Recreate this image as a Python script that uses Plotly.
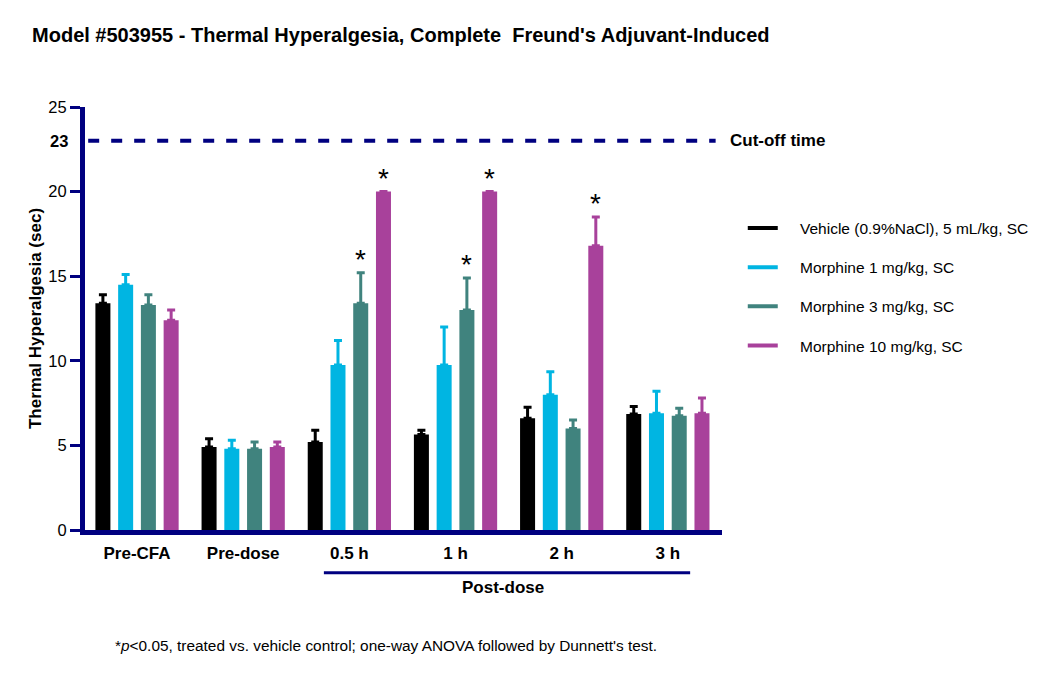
import plotly.graph_objects as go

# time points (x categories)
timepoints = ['Pre-CFA', 'Pre-dose', '0.5 h', '1 h', '2 h', '3 h']

# group names
groups = ['Vehicle (0.9%NaCl), 5 mL/kg, SC', 'Morphine 1 mg/kg, SC',
          'Morphine 3 mg/kg, SC', 'Morphine 10 mg/kg, SC']

# mean latency (sec)
vehicle = [13.4, 4.9, 5.2, 5.65, 6.6, 6.85]
morph_1 = [14.5, 4.8, 9.75, 9.75, 8.0, 6.9]
morph_3 = [13.3, 4.8, 13.4, 13.0, 6.0, 6.75]
morph_10 = [12.4, 4.9, 20.0, 20.0, 16.8, 6.9]

# SEM (upper bar only)
vehicle_sem = [0.5, 0.5, 0.7, 0.25, 0.65, 0.45]
morph_1_sem = [0.6, 0.5, 1.45, 2.25, 1.35, 1.3]
morph_3_sem = [0.6, 0.4, 1.8, 1.9, 0.5, 0.45]
morph_10_sem = [0.6, 0.3, 0.0, 0.0, 1.7, 0.9]

# significance vs vehicle (p<0.05)
morph_1_sig = [0, 0, 0, 0, 0, 0]
morph_3_sig = [0, 0, 1, 1, 0, 0]
morph_10_sig = [0, 0, 1, 1, 1, 0]

cutoff = 23
y_ticks = [0, 5, 10, 15, 20, 25]

colors = ['#000000', '#00b5e2', '#40837e', '#a8419b']
navy = '#000080'
font = 'Arial, Liberation Sans, sans-serif'

means = [vehicle, morph_1, morph_3, morph_10]
sems = [vehicle_sem, morph_1_sem, morph_3_sem, morph_10_sem]
sigs = [[0] * 6, morph_1_sig, morph_3_sig, morph_10_sig]

fig = go.Figure()

for i in range(4):
    fig.add_trace(go.Bar(
        x=timepoints, y=means[i], name=groups[i],
        marker=dict(color=colors[i], line=dict(width=0)),
        error_y=dict(type='data', symmetric=False, array=sems[i],
                     arrayminus=[0] * 6, color=colors[i], thickness=3, width=4),
        showlegend=False, offsetgroup=str(i)))

# legend entries drawn as short lines (nbsp pads the gap to the text)
for i in range(4):
    fig.add_trace(go.Scatter(
        x=[None], y=[None], mode='lines', name='\u00a0' * 4 + groups[i],
        line=dict(color=colors[i], width=4), legendgroup=str(i)))

# asterisks above significant bars
n_groups = 4
slot = (1 - 0.143) / n_groups
for i in range(4):
    for j, flag in enumerate(sigs[i]):
        if flag:
            xpos = j - (1 - 0.143) / 2 + slot * (i + 0.5)
            fig.add_annotation(x=xpos, y=means[i][j] + sems[i][j], xref='x', yref='y',
                               text='*', showarrow=False, yanchor='bottom', yshift=-4,
                               font=dict(family=font, size=28, color='black'))

# cut-off line
fig.add_shape(type='line', xref='paper', yref='y', x0=0.005, x1=0.99, y0=cutoff, y1=cutoff,
              line=dict(color=navy, width=4, dash='11px,12px'))
fig.add_annotation(xref='paper', yref='y', x=1.009, y=cutoff, xanchor='left', yanchor='middle',
                   text='<b>Cut-off time</b>', showarrow=False,
                   font=dict(family=font, size=17, color='black'))
fig.add_annotation(xref='paper', yref='y', x=-0.0235, y=cutoff, xanchor='right', yanchor='middle',
                   text='<b>%d</b>' % cutoff, showarrow=False,
                   font=dict(family=font, size=16.5, color='black'))

# post-dose bracket
fig.add_shape(type='line', xref='x', yref='paper', x0=1.76, x1=5.21, y0=-0.101, y1=-0.101,
              line=dict(color=navy, width=3))
fig.add_annotation(xref='x', yref='paper', x=3.45, y=-0.137, yanchor='middle',
                   text='<b>Post-dose</b>', showarrow=False,
                   font=dict(family=font, size=17, color='black'))

# footnote
fig.add_annotation(xref='paper', yref='paper', x=0.044, y=-0.272, xanchor='left', yanchor='middle',
                   text="*<i>p</i><0.05, treated vs. vehicle control; one-way ANOVA followed by Dunnett's test.",
                   showarrow=False, font=dict(family=font, size=15.4, color='black'))

fig.update_layout(
    width=1050, height=676,
    margin=dict(l=77, r=336, t=99, b=154),
    paper_bgcolor='white', plot_bgcolor='white',
    barmode='group', bargap=0.143, bargroupgap=0.34,
    title=dict(text="<b>Model #503955 - Thermal Hyperalgesia, Complete  Freund's Adjuvant-Induced</b>",
               xref='container', yref='container', x=0.0229, y=0.96, xanchor='left', yanchor='middle',
               font=dict(family=font, size=20, color='black')),
    font=dict(family=font, color='black'),
    legend=dict(x=1.0326, y=0.753, xanchor='left', yanchor='top', tracegroupgap=16,
                itemwidth=30, font=dict(family=font, size=15.5, color='black'),
                bgcolor='rgba(0,0,0,0)'),
    xaxis=dict(range=[-0.49, 5.51], showline=True, linewidth=5, linecolor=navy,
               ticks='', showgrid=False, zeroline=False, ticklabelstandoff=4,
               tickfont=dict(family=font, size=17, color='black'),
               tickvals=timepoints, ticktext=['<b>%s</b>' % t for t in timepoints]),
    yaxis=dict(range=[0, 25], showline=True, linewidth=5, linecolor=navy,
               ticks='outside', ticklen=10, tickwidth=3, tickcolor=navy,
               tickvals=y_ticks, showgrid=False, zeroline=False,
               tickfont=dict(family=font, size=16.5, color='black'),
               title=dict(text='<b>Thermal Hyperalgesia (sec)</b>', standoff=4,
                          font=dict(family=font, size=17, color='black'))),
)

fig.write_html('out.html')
